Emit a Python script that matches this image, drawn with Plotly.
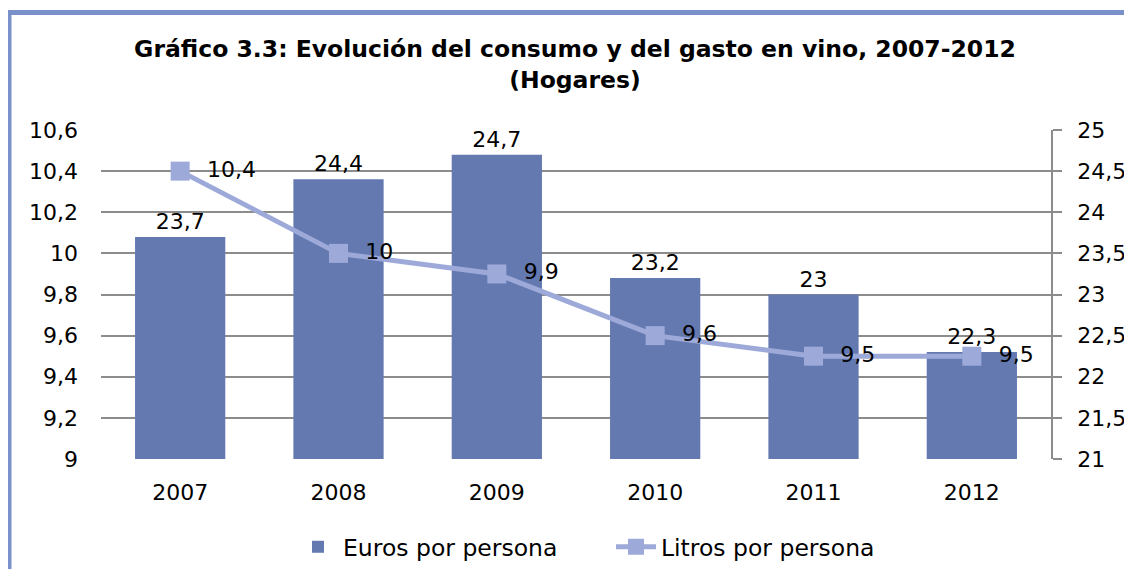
import plotly.graph_objects as go

years = ["2007", "2008", "2009", "2010", "2011", "2012"]
euros = [23.7, 24.4, 24.7, 23.2, 23.0, 22.3]
litros = [10.4, 10.0, 9.9, 9.6, 9.5, 9.5]
left_ticks = [9.0, 9.2, 9.4, 9.6, 9.8, 10.0, 10.2, 10.4, 10.6]
right_ticks = [21, 21.5, 22, 22.5, 23, 23.5, 24, 24.5, 25]


def fmt(v):
    return ("%g" % v).replace(".", ",")


OFF = 8  # default body margin of the html page
W, H = 1132 - OFF, 577 - 2 * OFF
L, T = 101 - OFF, 130 - OFF
pw, ph = 950, 329
R, B = W - L - pw, H - T - ph

bar_col = "#6479B0"
line_col = "#9DAAD9"
font = "DejaVu Sans, Verdana, sans-serif"
FS = 22


def px_x(p):
    return (p - OFF - L) / pw


def px_y(p):
    return (T + ph - (p - OFF)) / ph


fig = go.Figure()
fig.add_trace(go.Bar(
    x=years, y=euros, yaxis="y", name="Euros por persona",
    marker=dict(color=bar_col, line=dict(width=0)),
    text=[fmt(v) for v in euros], textposition="outside",
    textfont=dict(size=FS, color="#000", family=font), cliponaxis=False,
))
fig.add_trace(go.Scatter(
    x=years, y=litros, yaxis="y2", name="Litros por persona",
    mode="lines+markers+text",
    line=dict(color=line_col, width=5),
    marker=dict(symbol="square", size=19, color=line_col),
    text=[fmt(v) for v in litros], texttemplate="  %{text}",
    textposition="middle right",
    textfont=dict(size=FS, color="#000", family=font), cliponaxis=False,
))

border = "#7A90CB"
fig.add_shape(type="line", xref="paper", yref="paper",
              x0=px_x(6), x1=px_x(1140), y0=px_y(12.5), y1=px_y(12.5),
              line=dict(color=border, width=5))
fig.add_shape(type="line", xref="paper", yref="paper",
              x0=px_x(9), x1=px_x(9), y0=px_y(10), y1=px_y(600),
              line=dict(color=border, width=5))

fig.update_layout(
    width=W, height=H,
    margin=dict(l=L, r=R, t=T, b=B, autoexpand=False),
    paper_bgcolor="white", plot_bgcolor="white",
    font=dict(family=font, size=FS, color="#000"),
    title=dict(
        text="<b>Gráfico 3.3: Evolución del consumo y del gasto en vino, 2007-2012<br>(Hogares)</b>",
        x=(575 - OFF) / W, xanchor="center", y=1 - (57 - OFF) / H, yanchor="top",
        font=dict(size=23.5, family=font, color="#000"),
    ),
    bargap=0.43,
    showlegend=True,
    legend=dict(orientation="h", x=px_x(293), xanchor="left",
                y=px_y(547), yanchor="middle",
                font=dict(size=23.5, family=font), itemwidth=40,
                entrywidth=263, entrywidthmode="pixels",
                bgcolor="rgba(0,0,0,0)"),
    xaxis=dict(showgrid=False, showline=False, ticks="", ticklabelstandoff=18,
               tickfont=dict(size=FS)),
    yaxis=dict(range=[21, 25], tickvals=right_ticks,
               ticktext=[fmt(v) for v in right_ticks], side="right",
               showgrid=True, gridcolor="#8C8C8C", gridwidth=1.5,
               zeroline=False,
               showline=True, linecolor="#8C8C8C", linewidth=1.5,
               ticks="outside", ticklen=9, tickcolor="#8C8C8C", tickwidth=1.5,
               ticklabelstandoff=11, tickfont=dict(size=FS)),
    yaxis2=dict(range=[9, 10.6], tickvals=left_ticks,
                ticktext=[fmt(v) for v in left_ticks],
                overlaying="y", side="left", showgrid=False, zeroline=False,
                showline=False, ticks="", ticklabelstandoff=22,
                tickfont=dict(size=FS)),
)

fig.write_html("out.html")
